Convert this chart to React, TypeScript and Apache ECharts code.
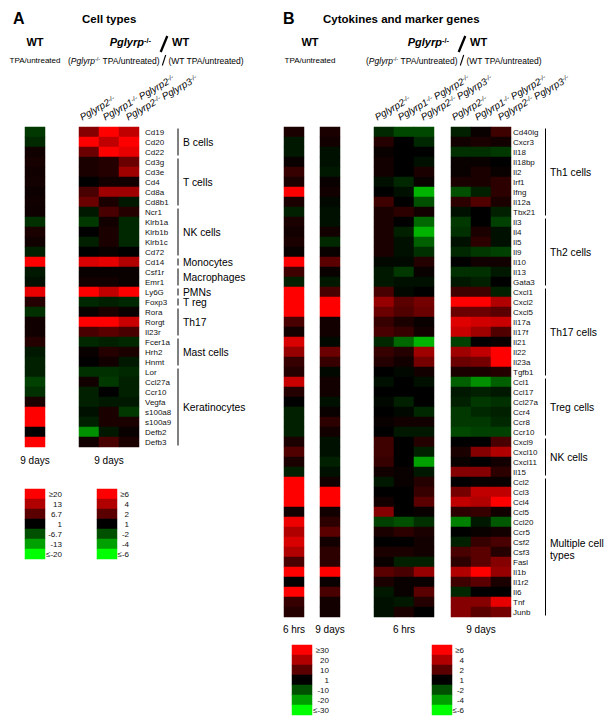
import React, { useEffect, useRef } from "react";
import * as echarts from "echarts";

const FONT = "'Liberation Sans', Arial, Helvetica, sans-serif";

// ---------------- Panel A: cell types ----------------
const genesA = ["Cd19", "Cd20", "Cd22", "Cd3g", "Cd3e", "Cd4", "Cd8a", "Cd8b1", "Ncr1", "Klrb1a", "Klrb1b", "Klrb1c", "Cd72", "Cd14", "Csf1r", "Emr1", "Ly6G", "Foxp3", "Rora", "Rorgt", "Il23r", "Fcer1a", "Hrh2", "Hnmt", "Lor", "Ccl27a", "Ccr10", "Vegfa", "s100a8", "s100a9", "Defb2", "Defb3"];
// WT TPA/untreated fold change, 9 days
const wtA9d = [-4.4, -2.9, 2.1, 2.4, 2.0, 2.2, 1.8, 2.0, 1.9, -3.6, 2.7, 2.1, -2.1, 22, -1.3, -0.5, 18, 3.3, -3.6, 2.1, 2.1, 3.3, -1.3, -2.1, -2.1, -5.2, -3.6, 2.7, 22, 22, 1, 22];
// Pglyrp-/- / WT fold change, 9 days
const mutA_P2 = [3, 7, 2.4, 1.3, 1.3, 1, 1.8, 2.4, 0.1, -1.1, 1, -0.2, 1, 5, 1.1, 1.2, 7, -0.5, 1.1, 7, 1.8, -0.5, 1.1, 1, -0.8, 1.2, -0.2, -0.2, 0.4, -0.2, -3.6, 1.2];
const mutA_P1P2 = [7, 4.4, 7, 1.4, 1.4, 1.2, 3.6, 1.3, 1.8, 1.2, 1.3, 1.3, 1.1, 5.4, 1.1, 1.2, 4.4, -0.2, 1.3, 7, 2, -0.2, 1.4, 1.2, -0.8, -1.1, 1, 0.1, 1.3, 1.3, 0.1, 1.8];
const mutA_P2P3 = [4.4, 7, 5.4, 2.4, 3.6, 1.2, 3.6, 0.1, 1.4, -0.5, -0.5, -0.5, 1, 4, 1.1, 1.1, 6.5, -0.5, 1.1, 4.6, 1.8, -0.5, 1.3, 0.1, -0.5, -0.2, -0.2, 0.1, -1.1, 1.3, 1.1, 1.3];
const groupNamesA = ["B cells", "T cells", "NK cells", "Monocytes", "Macrophages", "PMNs", "T reg", "Th17", "Mast cells", "Keratinocytes"];
const groupSizesA = [3, 5, 5, 1, 2, 1, 1, 3, 3, 8];

// ---------------- Panel B: cytokines and marker genes ----------------
const genesB = ["Cd40lg", "Cxcr3", "Il18", "Il18bp", "Il2", "Irf1", "Ifng", "Il12a", "Tbx21", "Il3", "Il4", "Il5", "Il9", "Il10", "Il13", "Gata3", "Cxcl1", "Cxcl2", "Cxcl5", "Il17a", "Il17f", "Il21", "Il22", "Il23a", "Tgfb1", "Ccl1", "Ccl17", "Ccl27a", "Ccr4", "Ccr8", "Ccr10", "Cxcl9", "Cxcl10", "Cxcl11", "Il15", "Ccl2", "Ccl3", "Ccl4", "Ccl5", "Ccl20", "Ccr5", "Csf2", "Csf3", "Fasl", "Il1b", "Il1r2", "Il6", "Tnf", "Junb"];
const wtB6h = [3.7, -2.3, -2.3, 1.9, 6.4, 3.7, 32, 3.7, -3.4, 3.7, 2.8, 3.7, 1.9, 32, 7.3, -3.4, 32, 35, 33, 8.2, 2.8, 25, 17, 6.4, 4.6, 23, 4.6, 1, -3.4, -3.4, -3.4, 3.7, 9.1, 3.7, -3.4, 32, 34, 33, 2.8, 28, 20, 25, 20, 8.2, 32, 1, 31, 6.4, 4.6];
const wtB9d = [3.7, 2.8, -1.2, -1.2, -2.3, 1.9, 2.8, -0.1, -1.2, -1.2, 2.8, -4.5, 1.9, 10, 1.9, -2.3, 8.2, 32, 31, 2.8, 2.8, -0.1, 12, 6.4, -0.1, 2.8, 2.8, -1.2, 1.9, 5.5, 2.8, -1.2, -1.2, -3.4, -1.2, 2.8, 33, 32, 2.8, 5.5, 10, 2.8, 5.5, 5.5, 32, 1.9, 8.2, 2.8, 2.8];
const mutB6h_P2 = [-0.5, 1.4, 1.1, 1.2, 1.2, 0.4, 1, 1.7, 1.3, 1.3, 1.3, 1.3, 1.3, 0.7, 0.1, 0.1, 1.8, 3.4, 2.4, 1.6, 1.8, -0.5, 1.6, 1.4, 1, 0.4, 1, 0.7, 1, 1.1, 1, 1.7, 1.7, 1.6, 1.2, 0.1, 1, 1.2, 3, -1.4, 1.3, 1, 1.3, 1.1, 2, 1.3, 0.1, 0.4, 0.4];
const mutB6h_P1P2 = [-1.7, 1, 1, 1, 1, -0.5, 0.4, 1, 1.5, 1, -0.2, 0.4, 0.4, 0.7, -1.1, 0.4, 0.7, 2, 1.9, 1.3, 1.6, -2.6, 1.4, 1.2, 0.7, 1, 1, -0.2, 0.7, 1.2, 0.1, 1, 1, 1, 1.1, 1.1, 1, 1, 1, -2, 1.5, 1, 1.3, -0.2, 1.8, 1.1, 1.1, 0.1, 1.3];
const mutB6h_P2P3 = [-1.7, -0.5, 1, 0.4, 1.3, 1.1, -4.4, -2, 1.2, -2.6, -4.4, -2.4, -0.8, 1.4, 1.1, 0.4, 1, 2.6, 2.4, 1.1, 1.2, -4.4, 3.6, 2.6, 1.2, 0.4, 1, 1, -0.5, 1.2, 0.1, 1.4, -0.2, -4, 0.1, 1.4, 1.6, 2, 1.1, -0.8, 1.3, 1.2, 1.2, -0.2, 3.4, 1.1, 2, 1.4, 1];
const mutB9d_P2 = [-0.2, 1.2, -0.8, 1.1, 1.1, 1.3, -2, 1.5, 0.4, -1.1, -0.8, 0.4, -0.5, 1, -0.8, 0.1, 1.7, 7, 2.4, 5.2, 4.6, -1.4, 3.6, 2.4, 1.3, -2.4, 0.1, -0.2, -1.1, -1.1, -1.7, 1, 1.3, 1.1, 3, 1, 2.6, 4.4, 1.5, -3.2, 1, -0.2, 1.8, 1.5, 4, 1.7, -0.5, 3, 3];
const mutB9d_P1P2 = [1.1, 1.3, -0.8, 1.1, 1.3, 1.3, -0.2, 1.9, 1, 1, 1.3, 1.5, -1.1, 1.2, -0.8, -0.2, 1.7, 6.5, 2.4, 4.8, 3.6, 1, 4.4, 2.6, 1.3, -3.6, -0.2, -1.1, -0.5, -1.1, -1.4, 1, 3, 1, 3, 1.1, 4.4, 4, 1.6, 0.1, 1.1, 1.6, 2, 2, 6.5, 2, 1, 3, 2];
const mutB9d_P2P3 = [1.7, 1.2, -1.1, 1, 1.1, 1.5, 1.5, 1.3, -0.2, -1.4, 0.4, 0.4, -1.4, 1.2, 0.1, 1, -0.2, 4, 2, 4.6, 1.9, 1.1, 7, 7, 1.4, -2.4, 0.1, -0.8, -0.2, -0.5, -1.4, 1.8, 4, 1.2, 1.5, 1.1, 4.4, 7, 1.2, -2.2, 1.2, 1.8, 1.4, 3, 3.4, 1.3, 1, 5.4, 2.6];
const groupNamesB = ["Th1 cells", "Th2 cells", "Th17 cells", "Treg cells", "NK cells", "Multiple cell\ntypes"];
const groupSizesB = [9, 7, 9, 6, 4, 14];

// genotypes (column labels)
const genotypes = [["Pglyrp2"], ["Pglyrp1", "Pglyrp2"], ["Pglyrp2", "Pglyrp3"]];

// colour-scale legends (tick labels and values)
const legendWTA = ["≥20", "13", "6.7", "1", "-6.7", "-13", "≤-20"];
const legendWTAValues = [20, 13, 6.7, 1, -6.7, -13, -20];
const legendFold = ["≥6", "4", "2", "1", "-2", "-4", "≤-6"];
const legendFoldValues = [6, 4, 2, 1, -2, -4, -6];
const legendWTB = ["≥30", "20", "10", "1", "-10", "-20", "≤-30"];
const legendWTBValues = [30, 20, 10, 1, -10, -20, -30];

const levelColors = ["#00ff00", "#00a000", "#005000", "#000000", "#5a0000", "#b00000", "#ff0000"];

function toLevel(v: number, stops: number[]) {
  if (v <= stops[0]) return -3;
  if (v >= stops[6]) return 3;
  for (let i = 0; i < 6; i++) {
    if (v <= stops[i + 1]) return i - 3 + (v - stops[i]) / (stops[i + 1] - stops[i]);
  }
  return 3;
}

const stopsWTA = legendWTAValues.slice().reverse();
const stopsFold = legendFoldValues.slice().reverse();
const stopsWTB = legendWTBValues.slice().reverse();

const ROW = 10;
const TOP = 127;
const COLW = 20;

const genoName = (g: string[]) => g.map((p) => p + "-/-").join(" ");

interface Block {
  left: number;
  top: number;
  rows: string[];
  cols: string[];
  data: number[][];
  stops: number[];
  labelMargin?: number;
  labelAlign?: "left" | "right";
  name?: string;
  nameGap?: number;
}

function buildOption() {
  const blocks: Block[] = [
    { left: 25, top: TOP, rows: genesA, cols: ["WT"], data: [wtA9d], stops: stopsWTA, name: "9 days", nameGap: 8 },
    { left: 79, top: TOP, rows: genesA, cols: genotypes.map(genoName), data: [mutA_P2, mutA_P1P2, mutA_P2P3], stops: stopsFold, labelMargin: 6, name: "9 days", nameGap: 8 },
    { left: 284, top: TOP, rows: genesB, cols: ["WT"], data: [wtB6h], stops: stopsWTB, name: "6 hrs", nameGap: 7 },
    { left: 320, top: TOP, rows: genesB, cols: ["WT"], data: [wtB9d], stops: stopsWTB, name: "9 days", nameGap: 7 },
    { left: 374, top: TOP, rows: genesB, cols: genotypes.map(genoName), data: [mutB6h_P2, mutB6h_P1P2, mutB6h_P2P3], stops: stopsFold, name: "6 hrs", nameGap: 7 },
    { left: 451, top: TOP, rows: genesB, cols: genotypes.map(genoName), data: [mutB9d_P2, mutB9d_P1P2, mutB9d_P2P3], stops: stopsFold, labelMargin: 2, name: "9 days", nameGap: 7 },
    { left: 25, top: 489, rows: legendWTA, cols: [""], data: [legendWTAValues], stops: stopsWTA, labelMargin: 17, labelAlign: "right" },
    { left: 97, top: 489, rows: legendFold, cols: [""], data: [legendFoldValues], stops: stopsFold, labelMargin: 12, labelAlign: "right" },
    { left: 292, top: 645, rows: legendWTB, cols: [""], data: [legendWTBValues], stops: stopsWTB, labelMargin: 17, labelAlign: "right" },
    { left: 432, top: 645, rows: legendFold, cols: [""], data: [legendFoldValues], stops: stopsFold, labelMargin: 12, labelAlign: "right" },
  ];

  const grid: any[] = [];
  const xAxis: any[] = [];
  const yAxis: any[] = [];
  const series: any[] = [];

  blocks.forEach((b, i) => {
    grid.push({ left: b.left, top: b.top, width: b.cols.length * COLW, height: b.rows.length * ROW, outerBoundsMode: "none", containLabel: false });
    xAxis.push({
      type: "category",
      gridIndex: i,
      data: b.cols,
      axisLine: { show: false },
      axisTick: { show: false },
      axisLabel: { show: false },
      splitLine: { show: false },
      name: b.name || "",
      nameLocation: "middle",
      nameGap: b.nameGap || 8,
      nameTextStyle: { fontSize: 10, color: "#000", fontFamily: FONT },
    });
    yAxis.push({
      type: "category",
      gridIndex: i,
      data: b.rows,
      inverse: true,
      position: "right",
      axisLine: { show: false },
      axisTick: { show: false },
      splitLine: { show: false },
      axisLabel: {
        show: b.labelMargin !== undefined,
        interval: 0,
        margin: b.labelMargin || 0,
        align: b.labelAlign || "left",
        fontSize: 8,
        color: "#111",
        fontFamily: FONT,
      },
    });
    const data: number[][] = [];
    b.data.forEach((col, c) => {
      col.forEach((v, r) => data.push([c, r, toLevel(v, b.stops)]));
    });
    series.push({
      type: "heatmap",
      xAxisIndex: i,
      yAxisIndex: i,
      data,
      silent: true,
      itemStyle: { borderWidth: 0 },
      emphasis: { disabled: true },
    });
  });

  // ---------- graphic: titles, column labels, group brackets ----------
  const g: any[] = [];
  const txt = (x: number, y: number, text: string, opt: any = {}) =>
    g.push({
      type: "text",
      x,
      y,
      silent: true,
      style: { text, fill: "#000", fontFamily: FONT, fontSize: 8, align: "left", verticalAlign: "middle", ...opt },
    });

  const header = (panelX: number, letter: string, title: string, titleX: number, wtX: number, sx: number) => {
    txt(panelX, 18.5, letter, { fontSize: 16, fontWeight: "bold" });
    txt(titleX, 19, title, { fontSize: 11.5, fontWeight: "bold" });
    txt(wtX, 42, "WT", { fontSize: 11, fontWeight: "bold", align: "center" });
    txt(wtX, 60, "TPA/untreated", { fontSize: 8, align: "center" });
    txt(sx - 13, 42, "{pi|Pglyrp}{ps|-/-}", {
      align: "right",
      rich: {
        pi: { fontSize: 11, fontWeight: "bold", fontStyle: "italic", fontFamily: FONT, fill: "#000" },
        ps: { fontSize: 7.5, fontWeight: "bold", fontFamily: FONT, fill: "#000", verticalAlign: "top" },
      },
    });
    g.push({ type: "line", silent: true, shape: { x1: sx + 3.3, y1: 36, x2: sx - 3.3, y2: 52 }, style: { stroke: "#000", lineWidth: 2.3 } });
    txt(sx + 8, 42, "WT", { fontSize: 11, fontWeight: "bold" });
    txt(sx - 4.5, 60.5, "({si|Pglyrp}{ss|-/-} TPA/untreated)", {
      align: "right",
      fontSize: 8.5,
      rich: {
        si: { fontSize: 8.5, fontStyle: "italic", fontFamily: FONT, fill: "#000" },
        ss: { fontSize: 5.5, fontFamily: FONT, fill: "#000", verticalAlign: "top" },
      },
    });
    g.push({ type: "line", silent: true, shape: { x1: sx + 1.7, y1: 55, x2: sx - 1.7, y2: 65.5 }, style: { stroke: "#000", lineWidth: 1.1 } });
    txt(sx + 4.5, 60.5, "(WT TPA/untreated)", { fontSize: 8.5 });
  };
  header(13, "A", "Cell types", 82, 35, 164);
  header(283, "B", "Cytokines and marker genes", 323, 310, 462);

  // rotated genotype labels; label start = column left + small offset
  const colLabelsAt = (left: number) => {
    genotypes.forEach((geno, k) => {
      const text = geno.map((p) => `{it|${p}}{sp|-/-}`).join("{it| }");
      g.push({
        type: "text",
        x: left + k * COLW + [4, 7, 10][k],
        y: 122,
        rotation: Math.PI / 6,
        silent: true,
        style: {
          text,
          align: "left",
          verticalAlign: "bottom",
          fill: "#000",
          rich: {
            it: { fontSize: 9.7, fontStyle: "italic", fontFamily: FONT, fill: "#000" },
            sp: { fontSize: 6.5, fontStyle: "italic", fontFamily: FONT, fill: "#000", verticalAlign: "top" },
          },
        },
      });
    });
  };
  colLabelsAt(79);
  colLabelsAt(374);
  colLabelsAt(451);

  const brackets = (names: string[], sizes: number[], lineX: number, textX: number) => {
    let start = 0;
    names.forEach((n, i) => {
      const y1 = TOP + start * ROW + 1.5;
      const y2 = TOP + (start + sizes[i]) * ROW - 1.5;
      g.push({ type: "line", silent: true, shape: { x1: lineX, y1, x2: lineX, y2 }, style: { stroke: "#000", lineWidth: 1 } });
      const multi = n.indexOf("\n") >= 0;
      txt(textX, (y1 + y2) / 2 + (multi ? 2 : 0), n, { fontSize: 10.3, lineHeight: multi ? 12 : 9.5 });
      start += sizes[i];
    });
  };
  brackets(groupNamesA, groupSizesA, 178, 183);
  brackets(groupNamesB, groupSizesB, 545.5, 550);

  return {
    animation: false,
    backgroundColor: "#ffffff",
    textStyle: { fontFamily: FONT },
    grid,
    xAxis,
    yAxis,
    series,
    visualMap: {
      type: "continuous",
      show: false,
      min: -3,
      max: 3,
      dimension: 2,
      seriesIndex: series.map((_, i) => i),
      inRange: { color: levelColors },
    },
    graphic: g,
  };
}

export default function App() {
  const ref = useRef<HTMLDivElement>(null);
  useEffect(() => {
    if (!ref.current) return;
    const chart = echarts.init(ref.current, null, { renderer: "svg" });
    chart.setOption(buildOption() as any);
    return () => chart.dispose();
  }, []);
  return <div ref={ref} style={{ position: "absolute", left: 0, top: 0, width: 614, height: 724 }} />;
}
